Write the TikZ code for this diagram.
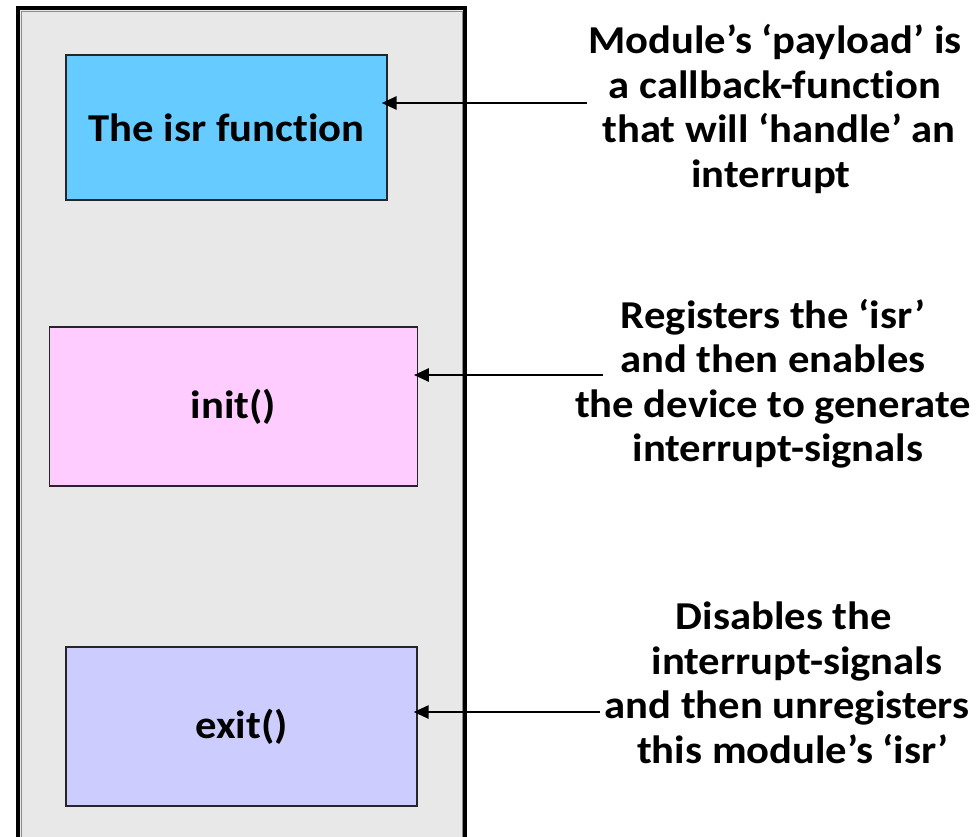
\documentclass[tikz,border=0pt]{standalone}
\usepackage{fontspec}
\setmainfont{Carlito}[Ligatures=NoCommon, FakeStretch=1.08]
\usetikzlibrary{arrows.meta}
\definecolor{panelgray}{HTML}{E8E8E8}
\definecolor{isrblue}{HTML}{66CCFF}
\definecolor{initpink}{HTML}{FFCCFF}
\definecolor{exitlav}{HTML}{CCCCFF}
\begin{document}
\begin{tikzpicture}[x=1pt,y=-1pt,
  fnbox/.style={draw=black!85, line width=1.3pt, minimum width=#1, inner sep=0pt,
     font=\fontsize{39.5}{44}\selectfont\bfseries},
  note/.style={align=center, inner sep=0pt, font=\fontsize{39.5}{44.5}\selectfont\bfseries},
  pointer/.style={line width=2.8pt, -{Triangle[length=15pt,width=13pt]}}]
\useasboundingbox (0,0) rectangle (980,836);
\fill[white] (0,0) rectangle (980,836);
% outer panel
\draw[line width=4pt, fill=panelgray] (18,8) rectangle (465,860);
\draw[line width=0.8pt, black!45] (21,11) rectangle (462,860);
% function boxes
\node[fnbox=321pt, minimum height=145pt, fill=isrblue] (isr) at (226.5,127.5) {The isr function};
\node[fnbox=367.5pt, minimum height=159pt, fill=initpink] (init) at (233.5,406.5) {init()};
\node[fnbox=351pt, minimum height=159pt, fill=exitlav] (exit) at (241.5,726.5) {exit()};
% notes
\node[note] (n1) at (775,109) {Module’s ‘payload’ is\\a callback-function\\\hspace*{8pt}that will ‘handle’ an\\interrupt\hspace*{8pt}};
\node[note] (n2) at (773,384) {Registers the ‘isr’\\and then enables\hspace*{6pt}\\the device to generate\\\hspace*{10pt}interrupt-signals};
\node[note] (n3) at (787,683) {Disables the\hspace*{6pt}\\\hspace*{20pt}interrupt-signals\\and then unregisters\\\hspace*{12pt}this module’s ‘isr’};
% arrows
\coordinate (s1) at (587,103);
\coordinate (s2) at (603,375);
\coordinate (s3) at (600,712);
\draw[pointer, shorten >=-6pt] (s1) -- (s1 -| isr.east);
\draw[pointer, shorten >=-4pt] (s2) -- (s2 -| init.east);
\draw[pointer, shorten >=-4pt] (s3) -- (s3 -| exit.east);
\end{tikzpicture}
\end{document}
